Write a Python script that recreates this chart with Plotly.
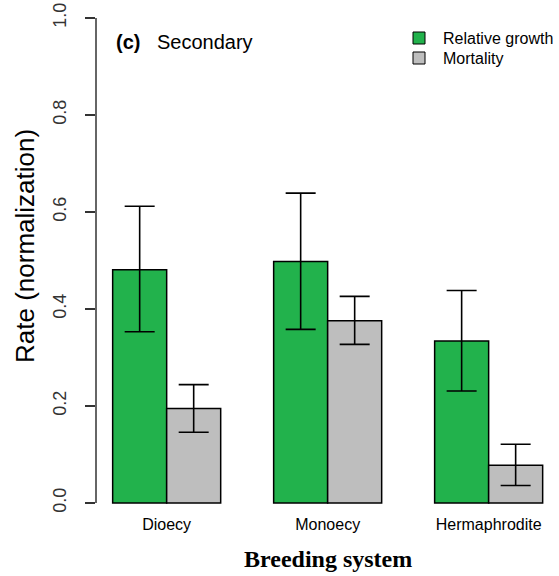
import plotly.graph_objects as go

# Data (c) Secondary
systems = ["Dioecy", "Monoecy", "Hermaphrodite"]
growth_mean = [0.481, 0.498, 0.334]
growth_low = [0.353, 0.358, 0.231]
growth_high = [0.612, 0.639, 0.438]
mortality_mean = [0.195, 0.376, 0.078]
mortality_low = [0.146, 0.327, 0.036]
mortality_high = [0.244, 0.426, 0.121]
y_ticks = [0.0, 0.2, 0.4, 0.6, 0.8, 1.0]
series_names = ["Relative growth", "Mortality"]

GREEN = "#22B24C"
GREY = "#BEBEBE"
INK = "#333333"
SANS = "Liberation Sans, Arial, Helvetica, sans-serif"
SERIF = "Liberation Serif, Times New Roman, serif"

W, H = 559, 576
M_L, M_R, M_T, M_B = 96, 0, 5, 63


def px(x):
    """Pixel column -> paper x."""
    return (x - M_L) / (W - M_L - M_R)


def py(y):
    """Pixel row -> paper y."""
    return (H - M_B - y) / (H - M_T - M_B)


def _bar(name, means, lows, highs, color):
    return go.Bar(
        name=name,
        x=systems,
        y=means,
        marker=dict(color=color, line=dict(color="black", width=1.5)),
        error_y=dict(
            type="data",
            symmetric=False,
            array=[h - m for h, m in zip(highs, means)],
            arrayminus=[m - l for m, l in zip(means, lows)],
            color="black",
            thickness=1.6,
            width=15,
        ),
        showlegend=False,
    )


fig = go.Figure()
fig.add_trace(_bar(series_names[0], growth_mean, growth_low, growth_high, GREEN))
fig.add_trace(_bar(series_names[1], mortality_mean, mortality_low, mortality_high, GREY))

# R-style y axis: the line only spans the tick range
fig.add_shape(
    type="line", xref="paper", yref="y",
    x0=0, x1=0, y0=y_ticks[0], y1=y_ticks[-1],
    line=dict(color=INK, width=1.5),
)

# Legend drawn by hand, R legend() style (tight rows)
for i, (name, color) in enumerate(zip(series_names, [GREEN, GREY])):
    cy = 38 + 20 * i
    fig.add_shape(
        type="rect", xref="paper", yref="paper",
        x0=px(413), x1=px(425), y0=py(cy + 6), y1=py(cy - 6),
        fillcolor=color, line=dict(color="black", width=1),
    )
    fig.add_annotation(
        text=name, xref="paper", yref="paper", x=px(441), y=py(cy),
        xanchor="left", yanchor="middle", showarrow=False,
        font=dict(family=SANS, size=16, color="black"),
    )

fig.add_annotation(
    text="Rate (normalization)", textangle=-90,
    xref="paper", yref="y", x=0, y=0.53, xshift=25 - M_L,
    xanchor="center", yanchor="middle", showarrow=False,
    font=dict(family=SANS, size=26, color="black"),
)
fig.add_annotation(
    text="<b>Breeding system</b>",
    xref="paper", yref="paper", x=px(328), y=py(559),
    xanchor="center", yanchor="middle", showarrow=False,
    font=dict(family=SERIF, size=24, color="black"),
)
fig.add_annotation(
    text="<b>(c)</b>",
    xref="paper", yref="paper", x=px(114), y=py(42),
    xanchor="left", yanchor="middle", showarrow=False,
    font=dict(family=SANS, size=20, color="black"),
)
fig.add_annotation(
    text="Secondary",
    xref="paper", yref="paper", x=px(155), y=py(42),
    xanchor="left", yanchor="middle", showarrow=False,
    font=dict(family=SANS, size=20, color="black"),
)

fig.update_layout(
    width=W, height=H,
    margin=dict(l=M_L, r=M_R, t=M_T, b=M_B),
    barmode="group", bargap=0.329, bargroupgap=0,
    plot_bgcolor="white", paper_bgcolor="white",
    showlegend=False,
)
fig.update_xaxes(
    range=[-0.439, 2.437], showline=False, showgrid=False, zeroline=False,
    ticks="", tickfont=dict(family=SANS, size=16, color="black"),
)
fig.update_yaxes(
    range=[-0.0206, 1.0268], showline=False, showgrid=False, zeroline=False,
    tickvals=y_ticks, ticktext=[f"{v:.1f}" for v in y_ticks],
    ticks="outside", ticklen=10, tickwidth=1.5, tickcolor=INK,
    ticklabelstandoff=12,
    tickangle=-90, tickfont=dict(family=SANS, size=18, color=INK),
)

# the page's default body margin would shift the 559x576 figure out of view
fig.write_html(
    "out.html",
    config={"displayModeBar": False},
    post_script="document.body.style.margin = '0';",
)
